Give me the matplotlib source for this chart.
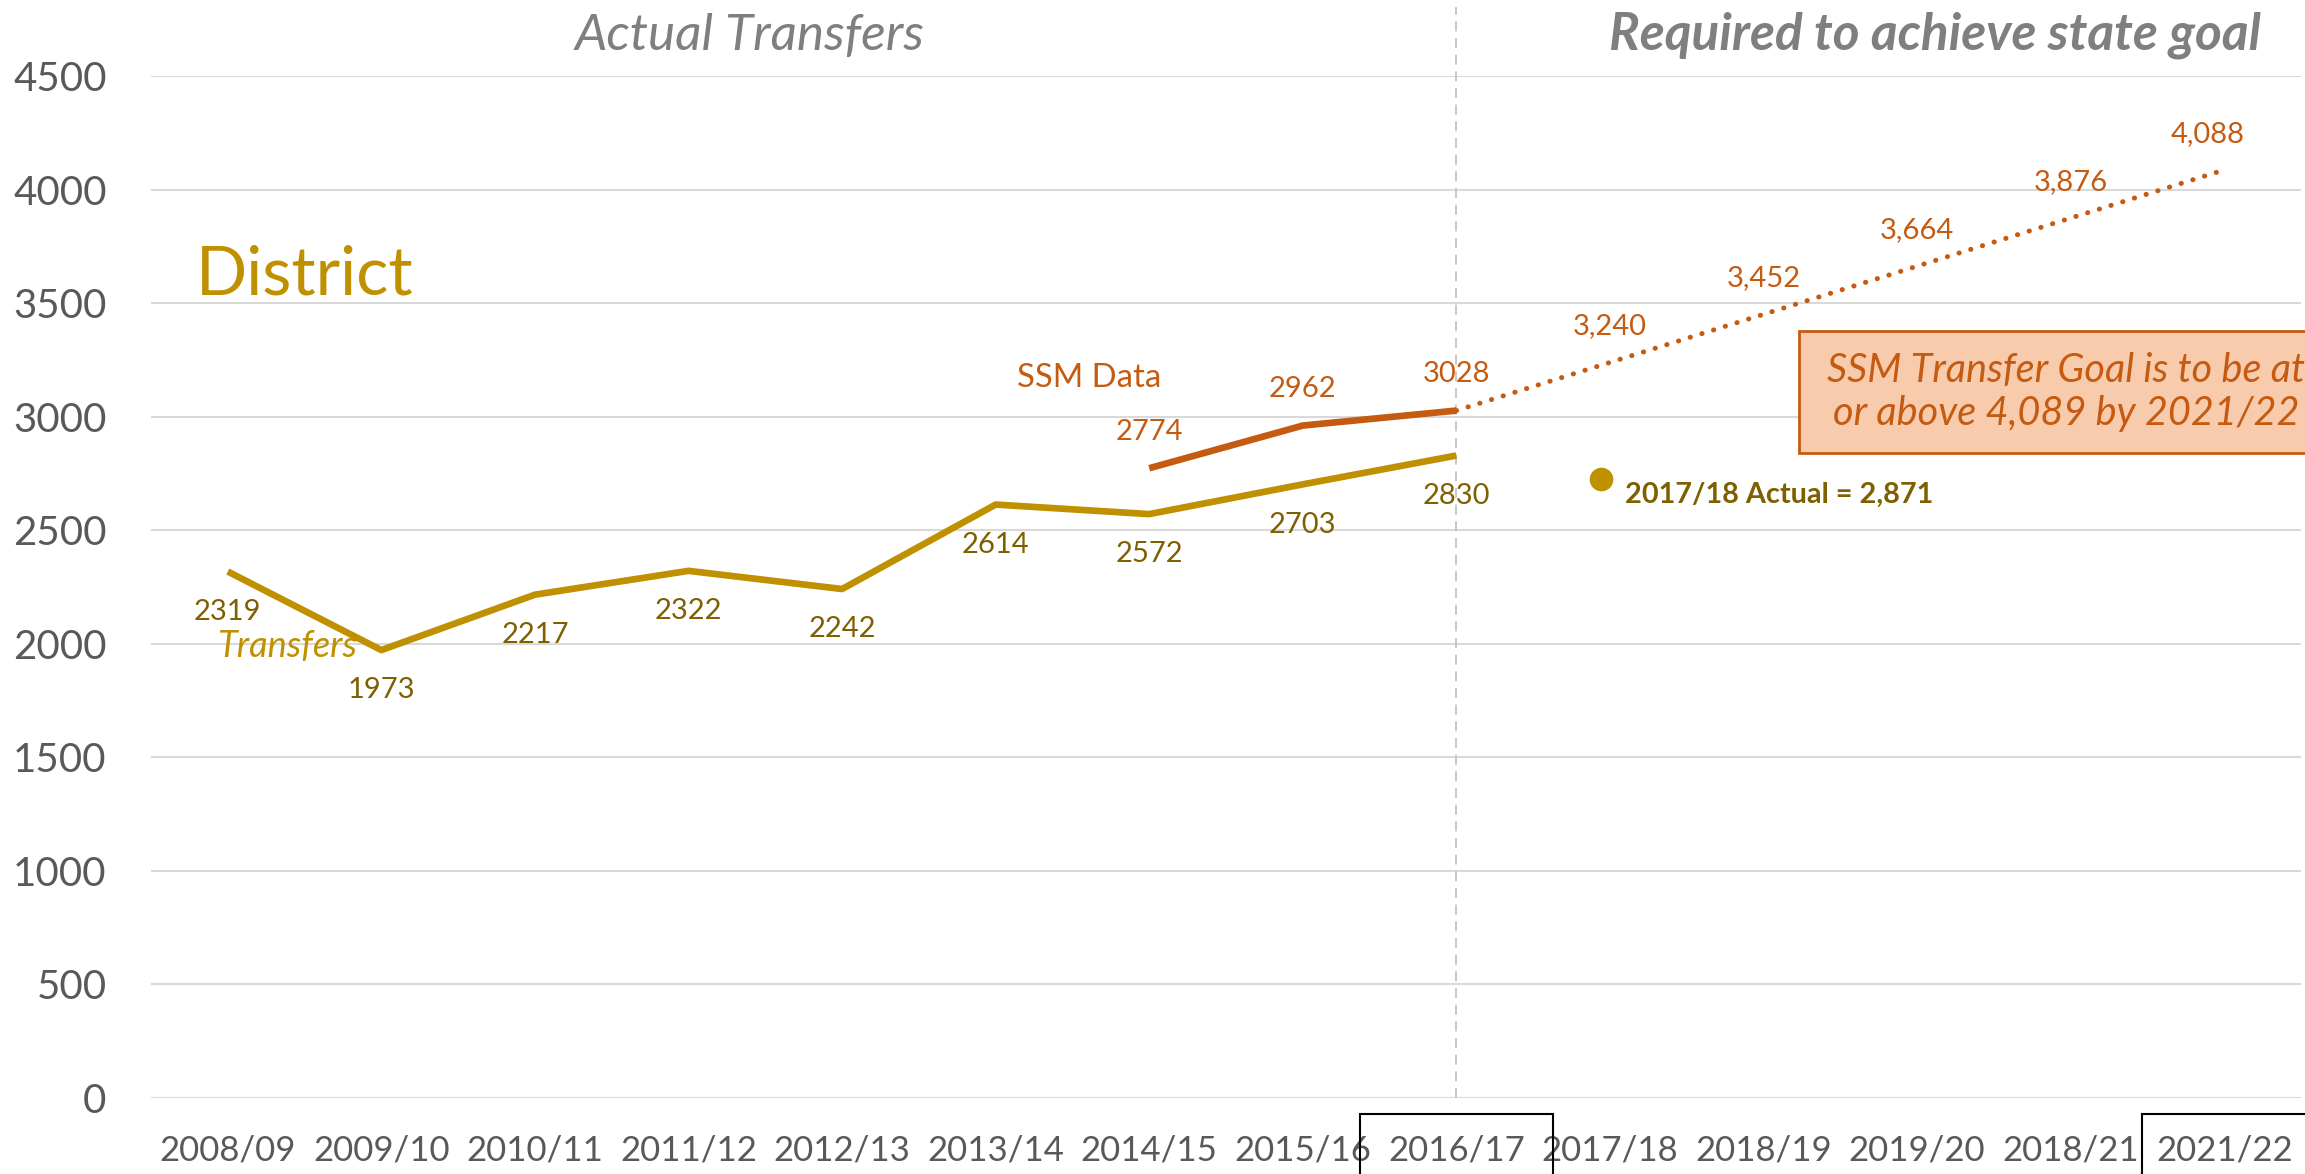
import numpy as np
import matplotlib
matplotlib.use("Agg")
import matplotlib.pyplot as plt
from matplotlib.patches import Rectangle
from matplotlib.transforms import blended_transform_factory

plt.rcParams['font.family'] = ['Lato', 'DejaVu Sans']

# data
years = ['2008/09', '2009/10', '2010/11', '2011/12', '2012/13', '2013/14', '2014/15',
         '2015/16', '2016/17', '2017/18', '2018/19', '2019/20', '2018/21', '2021/22']
transfers = [2319, 1973, 2217, 2322, 2242, 2614, 2572, 2703, 2830]
ssm_data = [2774, 2962, 3028]
goal = [3028, 3240, 3452, 3664, 3876, 4088]
actual_1718 = 2871
actual_1718_dot = 2727  # where the dot sits in the picture

GOLD = '#BF9000'
DARK_GOLD = '#7F6000'
ORANGE = '#C55A11'
GREY = '#7F7F7F'
TICK = '#595959'

fig = plt.figure(figsize=(23.05, 11.74), dpi=100)
W, H = 2305, 1174
ax = fig.add_axes([151 / W, (H - 1098) / H, 2150 / W, (1098 - 76.4) / H])

x = np.arange(len(years))
x_tr = x[:len(transfers)]
x_ssm = x[len(transfers) - len(ssm_data):len(transfers)]
x_goal = x[len(transfers) - 1:len(transfers) - 1 + len(goal)]

ax.plot(x_tr, transfers, color=GOLD, lw=4.8, solid_capstyle='butt', zorder=3)
ax.plot(x_ssm, ssm_data, color=ORANGE, lw=4.8, solid_capstyle='butt', zorder=3)
ax.plot(x_goal, goal, color=ORANGE, lw=3.6, linestyle=(0, (0.05, 2.4)),
        dash_capstyle='round', zorder=3)

# data labels
for xi, v in zip(x_tr, transfers):
    ax.annotate(str(v), (xi, v), xytext=(0, -29), textcoords='offset points',
                ha='center', va='center', color=DARK_GOLD, fontsize=21)
for xi, v in zip(x_ssm, ssm_data):
    ax.annotate(str(v), (xi, v), xytext=(0, 26), textcoords='offset points',
                ha='center', va='center', color=ORANGE, fontsize=21)
for i, (xi, v) in enumerate(zip(x_goal[1:], goal[1:])):
    dx = -12 if i == len(goal) - 2 else 0
    ax.annotate(f'{v:,}', (xi, v), xytext=(dx, 26), textcoords='offset points',
                ha='center', va='center', color=ORANGE, fontsize=21)

# 2017/18 actual
ax.plot([x[9] - 0.06], [actual_1718_dot], 'o', color=GOLD, ms=16, zorder=4)
ax.text(9.10, 2656, f'2017/18 Actual = {actual_1718:,}', color=DARK_GOLD,
        fontsize=20.8, fontweight='bold', ha='left', va='center')

# divider between actual and required
ax.plot([x[8], x[8]], [0, 4806], color='#BFBFBF', lw=1.2, linestyle=(0, (6, 4)),
        clip_on=False, zorder=1)

# headings and series names
ax.text(3.40, 4680, 'Actual Transfers', color=GREY, fontsize=37, style='italic',
        ha='center', va='center')
ax.text(13.24, 4680, 'Required to achieve state goal', color=GREY, fontsize=37,
        style='italic', fontweight='bold', ha='right', va='center')
ax.text(-0.21, 3621, 'District', color=GOLD, fontsize=48.5, ha='left', va='center')
ax.text(5.61, 3172, 'SSM Data', color=ORANGE, fontsize=23.7, ha='center', va='center')
ax.text(0.385, 1987, 'Transfers', color=GOLD, fontsize=26, style='italic',
        ha='center', va='center')

# goal callout box
ax.add_patch(Rectangle((10.23, 2841), 4.0, 538, facecolor='#F8CBAD',
                       edgecolor=ORANGE, lw=2, clip_on=False, zorder=2))
ax.text(11.97, 3110, 'SSM Transfer Goal is to be at\nor above 4,089 by 2021/22',
        color=ORANGE, fontsize=28.5, style='italic', ha='center', va='center',
        linespacing=1.2, zorder=5)

# boxes around highlighted tick labels
trans = blended_transform_factory(ax.transData, fig.transFigure)
top = (H - 1114) / H
for x0, x1 in [(8 - 0.63, 8 + 0.63), (13 - 0.535, 14.0)]:
    ax.add_patch(Rectangle((x0, -0.05), x1 - x0, top + 0.05, transform=trans,
                           fill=False, edgecolor='black', lw=1.5, clip_on=False))

ax.set_xlim(-0.5, 13.5)
ax.set_ylim(0, 4500)
ax.set_yticks(np.arange(0, 4501, 500))
ax.set_xticks(x)
ax.set_xticklabels(years)
ax.tick_params(axis='x', length=0, pad=26, labelsize=25, labelcolor=TICK)
ax.tick_params(axis='y', length=0, pad=32, labelsize=29, labelcolor=TICK)
ax.grid(axis='y', color='#D9D9D9', lw=1.5)
ax.set_axisbelow(True)
for s in ax.spines.values():
    s.set_visible(False)

fig.savefig('out.png', dpi=100)
